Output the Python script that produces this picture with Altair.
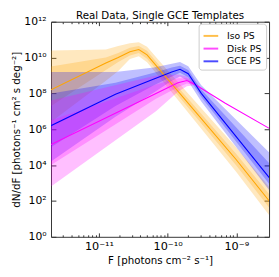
import altair as alt
import numpy as np
import pandas as pd

# ---- data (log10 values) ----
series_names = ["Iso PS", "Disk PS", "GCE PS"]
series_colors = ["#FFA500", "#FF00FF", "#0000FF"]
title_text = "Real Data, Single GCE Templates"

iso_logF = [-11.70, -10.90, -10.72, -10.55, -10.42, -10.30, -10.00, -9.00, -8.52]
iso_med  = [8.20, 9.70, 10.00, 10.33, 10.45, 10.15, 8.80, 4.30, 2.00]
iso_hi68 = [9.50, 10.00, 10.25, 10.55, 10.65, 10.38, 9.02, 4.62, 2.38]
iso_hi95 = [10.40, 10.45, 10.65, 10.80, 10.85, 10.60, 9.28, 4.98, 2.78]
iso_lo68 = [7.30, 9.30, 9.75, 10.12, 10.26, 9.94, 8.58, 3.98, 1.62]
iso_lo95 = [6.40, 8.70, 9.25, 9.92, 10.08, 9.74, 8.34, 3.62, 1.20]

gce_logF = [-11.70, -10.76, -10.20, -9.94, -9.82, -9.70, -9.51, -8.52]
gce_med  = [6.20, 7.95, 8.80, 9.20, 9.35, 9.10, 8.00, 3.30]
gce_hi68 = [8.00, 8.60, 9.15, 9.45, 9.55, 9.30, 8.22, 4.10]
gce_hi95 = [9.20, 9.20, 9.45, 9.65, 9.75, 9.52, 8.45, 4.70]
gce_lo68 = [5.00, 7.30, 8.45, 8.95, 9.15, 8.90, 7.80, 2.95]
gce_lo95 = [4.20, 6.70, 8.05, 8.70, 8.95, 8.68, 7.55, 2.60]

disk_logF = [-11.70, -10.17, -9.85, -9.72, -9.60, -9.16, -8.52]
disk_med  = [5.15, 8.00, 8.60, 8.72, 8.50, 7.45, 6.05]
disk_band_logF = [-11.70, -10.17, -9.85, -9.72, -9.60]
disk_hi95 = [7.60, 9.00, 9.05, 8.95, 8.55]
disk_hi68 = [6.50, 8.50, 8.85, 8.85, 8.53]
disk_lo68 = [4.00, 7.70, 8.35, 8.55, 8.47]
disk_lo95 = [2.80, 7.00, 8.10, 8.40, 8.45]

x_major = [-11, -10, -9]
y_major = [0, 2, 4, 6, 8, 10, 12]
x_domain = [2e-12, 3e-9]
y_domain = [1.0, 1e12]

# ---- tables ----
def band(name, lf, lo95, lo68, hi68, hi95):
    p = lambda a: 10.0 ** np.array(a, dtype=float)
    return pd.DataFrame({"series": name, "F": p(lf), "lo95": p(lo95), "lo68": p(lo68),
                         "hi68": p(hi68), "hi95": p(hi95)})

def med(name, lf, m):
    return pd.DataFrame({"series": name, "F": 10.0 ** np.array(lf), "med": 10.0 ** np.array(m)})

bands = {
    "Iso PS": band("Iso PS", iso_logF, iso_lo95, iso_lo68, iso_hi68, iso_hi95),
    "GCE PS": band("GCE PS", gce_logF, gce_lo95, gce_lo68, gce_hi68, gce_hi95),
    "Disk PS": band("Disk PS", disk_band_logF, disk_lo95, disk_lo68, disk_hi68, disk_hi95),
}
meds = pd.concat([med("Iso PS", iso_logF, iso_med), med("Disk PS", disk_logF, disk_med),
                  med("GCE PS", gce_logF, gce_med)])

W, H = 223, 220
FONT = "DejaVu Sans"
sup = str.maketrans("-0123456789", "⁻⁰¹²³⁴⁵⁶⁷⁸⁹")

def label_expr(exps):
    e = sorted(exps)
    s = f"'10{str(e[-1]).translate(sup)}'"
    for k in reversed(e[:-1]):
        s = f"datum.value < {10 ** (k + 0.5):.3e} ? '10{str(k).translate(sup)}' : " + s
    return s

x_major_vals = [10.0 ** k for k in x_major]
x_minor_vals = [m * 10.0 ** k for k in range(-12, -8) for m in range(2, 10)
                if x_domain[0] * 1.01 < m * 10.0 ** k < x_domain[1] * 0.99]
y_major_vals = [10.0 ** k for k in y_major]

xs = alt.Scale(type="log", domain=x_domain, nice=False)
ys = alt.Scale(type="log", domain=y_domain, nice=False)

def tick_axis(orient, offset, values, size):
    return alt.Axis(orient=orient, offset=offset, values=values, labels=False, ticks=True,
                    tickSize=size, domain=False, grid=False, title=None, tickColor="#333")

x_axes = [
    alt.Axis(orient="bottom", values=x_major_vals, labelExpr=label_expr(x_major), ticks=False,
             domain=False, grid=False, labelPadding=4, labelFontSize=11.5, labelFont=FONT,
             labelColor="black", title="F  [photons cm⁻² s⁻¹]", titleFont=FONT,
             titleFontSize=10.5, titleFontWeight="normal", titleColor="black", titlePadding=4),
    tick_axis("top", -H, x_major_vals, 4),
    tick_axis("top", -H, x_minor_vals, 2),
    tick_axis("bottom", -H, x_major_vals, 4),
    tick_axis("bottom", -H, x_minor_vals, 2),
    None,
]
y_axes = [
    alt.Axis(orient="left", values=y_major_vals, labelExpr=label_expr(y_major), ticks=False,
             domain=False, grid=False, labelPadding=5, labelFontSize=11, labelFont=FONT,
             labelColor="black", title="dN/dF  [photons⁻¹ cm² s deg⁻²]", titleFont=FONT,
             titleFontSize=10.5, titleFontWeight="normal", titleColor="black", titlePadding=2),
    tick_axis("right", -W, y_major_vals, 5),
    tick_axis("left", -W, y_major_vals, 5),
    None, None, None,
]

color_of = dict(zip(series_names, series_colors))

layers = []
i = 0
for name in ["Iso PS", "GCE PS", "Disk PS"]:
    for lo, hi in [("lo95", "hi95"), ("lo68", "hi68")]:
        layers.append(
            alt.Chart(bands[name]).mark_area(opacity=0.25, clip=True, color=color_of[name]).encode(
                x=alt.X("F:Q", scale=xs, axis=x_axes[i]),
                y=alt.Y(f"{lo}:Q", scale=ys, axis=y_axes[i]),
                y2=alt.Y2(f"{hi}:Q"),
            )
        )
        i += 1

lines = alt.Chart(meds).mark_line(strokeWidth=1.1, clip=True).encode(
    x=alt.X("F:Q", scale=xs, axis=None),
    y=alt.Y("med:Q", scale=ys, axis=None),
    color=alt.Color("series:N", scale=alt.Scale(domain=series_names, range=series_colors),
                    legend=alt.Legend(title=None, orient="none", legendX=W - 72, legendY=2,
                                      symbolType="stroke", symbolSize=225, symbolStrokeWidth=2,
                                      symbolOpacity=0.7, labelFont=FONT, labelFontSize=9.5,
                                      labelColor="black", labelOffset=8, padding=4,
                                      rowPadding=-2, fillColor="white", strokeColor="#ccc",
                                      cornerRadius=3)),
)
layers.append(lines)

title = alt.Chart(pd.DataFrame({"t": [title_text]})).mark_text(
    font=FONT, fontSize=10.5, color="black", align="center", baseline="alphabetic"
).encode(text="t:N", x=alt.value(W / 2), y=alt.value(-3))
layers.append(title)

chart = alt.layer(*layers).resolve_axis(x="independent", y="independent").properties(
    width=W, height=H,
    autosize=alt.AutoSizeParams(type="none"),
    padding={"left": 44, "top": 11, "right": 2, "bottom": 35},
).configure_view(stroke="#333", strokeWidth=1)

chart.save("out.html", embed_options={"renderer": "svg", "actions": False})
